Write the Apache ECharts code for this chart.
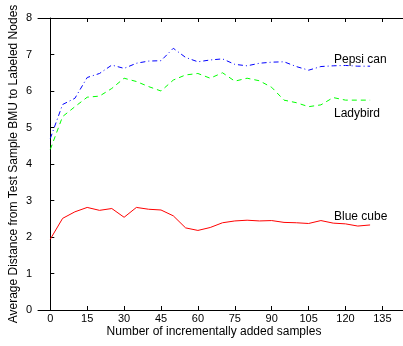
<!DOCTYPE html>
<html>
<head>
<meta charset="utf-8">
<script src="https://cdn.jsdelivr.net/npm/echarts@6/dist/echarts.min.js"></script>
<style>html,body{margin:0;padding:0;background:#fff}#c{width:403px;height:346px}</style>
</head>
<body>
<div id="c"></div>
<script>
const samples = [0,5,10,15,20,25,30,35,40,45,50,55,60,65,70,75,80,85,90,95,100,105,110,115,120,125,130];
const pepsiCan = [4.70,5.63,5.80,6.37,6.48,6.71,6.62,6.76,6.82,6.83,7.17,6.92,6.80,6.85,6.88,6.73,6.69,6.76,6.79,6.80,6.67,6.57,6.67,6.69,6.70,6.68,6.68];
const ladybird = [4.40,5.30,5.57,5.83,5.86,6.07,6.35,6.26,6.12,6.00,6.30,6.44,6.48,6.35,6.50,6.27,6.35,6.28,6.10,5.75,5.68,5.57,5.62,5.82,5.75,5.75,5.75];
const blueCube = [1.94,2.51,2.69,2.81,2.73,2.78,2.54,2.81,2.76,2.74,2.58,2.25,2.18,2.26,2.39,2.44,2.46,2.44,2.45,2.40,2.39,2.37,2.45,2.38,2.36,2.30,2.33];
const xTicks = [0,15,30,45,60,75,90,105,120,135];
const seriesNames = ['Pepsi can','Ladybird','Blue cube'];
const yTitle = 'Average Distance from Test Sample BMU to Labeled Nodes';
const xTitle = 'Number of incrementally added samples';

const font = 'Liberation Sans, Arial, sans-serif';
const chart = echarts.init(document.getElementById('c'), null, {renderer:'canvas'});
const pair = (arr) => samples.map((s,i)=>[s,arr[i]]);
chart.setOption({
  animation:false,
  grid:{left:38,top:18,right:-4,bottom:36,show:false,containLabel:false,outerBoundsMode:'none'},
  xAxis:[{
    type:'value',min:-5,max:145,
    axisLine:{show:true,lineStyle:{color:'#000',width:1}},
    axisTick:{show:true,inside:true,length:4,customValues:xTicks,lineStyle:{color:'#000'}},
    axisLabel:{customValues:xTicks,color:'#000',fontFamily:font,fontSize:11,margin:3},
    splitLine:{show:false}
  },{
    type:'value',min:-5,max:145,position:'top',
    axisLine:{show:true,lineStyle:{color:'#000',width:1}},
    axisTick:{show:true,inside:true,length:4,customValues:xTicks,lineStyle:{color:'#000'}},
    axisLabel:{show:false},splitLine:{show:false}
  }],
  yAxis:{
    type:'value',min:0,max:8,interval:1,
    axisLine:{show:true,lineStyle:{color:'#000',width:1}},
    axisTick:{show:true,inside:true,length:4,lineStyle:{color:'#000'}},
    axisLabel:{color:'#000',fontFamily:font,fontSize:11,margin:6},
    splitLine:{show:false}
  },
  series:[
    {name:seriesNames[0],type:'line',data:pair(pepsiCan),showSymbol:false,
     lineStyle:{color:'#0000ff',width:1,type:[5,3,1,3]}},
    {name:seriesNames[1],type:'line',data:pair(ladybird),showSymbol:false,
     lineStyle:{color:'#00ff00',width:1,type:[5,4]}},
    {name:seriesNames[2],type:'line',data:pair(blueCube),showSymbol:false,
     lineStyle:{color:'#ff0000',width:1}}
  ],
  graphic:[
    {type:'text',x:14,y:164,rotation:Math.PI/2,
     style:{text:yTitle,fill:'#000',font:'12px '+font,align:'center',verticalAlign:'middle'}},
    {type:'text',x:214,y:332,
     style:{text:xTitle,fill:'#000',font:'12px '+font,align:'center',verticalAlign:'middle'}},
    {type:'text',left:334,top:54,style:{text:seriesNames[0],fill:'#000',font:'12px '+font}},
    {type:'text',left:334,top:108,style:{text:seriesNames[1],fill:'#000',font:'12px '+font}},
    {type:'text',left:334,top:211,style:{text:seriesNames[2],fill:'#000',font:'12px '+font}}
  ]
});
</script>
</body>
</html>
